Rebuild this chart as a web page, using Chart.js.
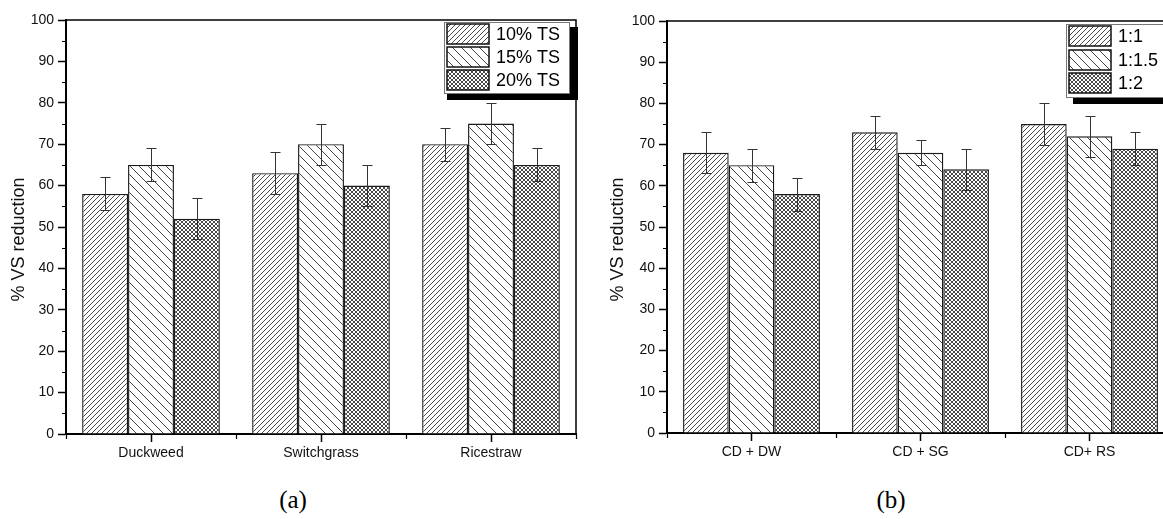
<!DOCTYPE html>
<html>
<head>
<meta charset="utf-8">
<script src="https://cdn.jsdelivr.net/npm/chart.js"></script>
<style>
  html, body { margin: 0; padding: 0; background: #fff; overflow: hidden; width: 1163px; height: 519px; }
  #chartA { position: absolute; left: 0; top: 0; }
  #chartB { position: absolute; left: 590px; top: 0; }
  .cap { position: absolute; top: 485px; width: 60px; text-align: center; line-height: 30px;
         font-family: "Liberation Serif", "Times New Roman", serif; font-size: 25px; color: #000; }
</style>
</head>
<body>
<canvas id="chartA" width="580" height="470"></canvas>
<canvas id="chartB" width="600" height="470"></canvas>
<div class="cap" style="left:263px">(a)</div>
<div class="cap" style="left:861px">(b)</div>
<script>
// panel (a) data
const categoriesA = ['Duckweed', 'Switchgrass', 'Ricestraw'];
const labelsA = ['10% TS', '15% TS', '20% TS'];
const ts10 = [58, 63, 70];
const ts10Err = [4, 5, 4];
const ts15 = [65, 70, 75];
const ts15Err = [4, 5, 5];
const ts20 = [52, 60, 65];
const ts20Err = [5, 5, 4];

// panel (b) data
const categoriesB = ['CD + DW', 'CD + SG', 'CD+ RS'];
const labelsB = ['1:1', '1:1.5', '1:2'];
const ratio1 = [68, 73, 75];
const ratio1Err = [5, 4, 5];
const ratio15 = [65, 68, 72];
const ratio15Err = [4, 3, 5];
const ratio2 = [58, 64, 69];
const ratio2Err = [4, 5, 4];

// y axis
const yMin = 0, yMax = 100, yStep = 10, yMinorStep = 5;
const yTitle = '% VS reduction';

const FONT = '"Liberation Sans", Arial, sans-serif';

// pixel patterns for the hatched bars
function makePattern(size, isDark, dark) {
  const c = document.createElement('canvas');
  c.width = size; c.height = size;
  const g = c.getContext('2d');
  g.fillStyle = '#fff';
  g.fillRect(0, 0, size, size);
  g.fillStyle = dark;
  for (let y = 0; y < size; y++)
    for (let x = 0; x < size; x++)
      if (isDark(x, y)) g.fillRect(x, y, 1, 1);
  return g.createPattern(c, 'repeat');
}
const hatchFine = makePattern(5, (x, y) => (x + y) % 5 === 4, '#4a4a4a');
const hatchWide = makePattern(9, (x, y) => x === y, '#444');
const crossFine = makePattern(4, (x, y) => x === y || x + y === 3, '#4a4a4a');
const patterns = [hatchFine, hatchWide, crossFine];

// error bars drawn from the dataset values through the y scale
const errorBars = {
  id: 'errorBars',
  afterDatasetsDraw(chart) {
    const ctx = chart.ctx, y = chart.scales.y;
    ctx.save();
    ctx.strokeStyle = '#333';
    ctx.lineWidth = 1;
    chart.data.datasets.forEach((ds, i) => {
      chart.getDatasetMeta(i).data.forEach((bar, j) => {
        const v = ds.data[j], e = ds.errors[j];
        const x = Math.round(bar.x) + 0.5;
        const top = Math.round(y.getPixelForValue(v + e)) + 0.5;
        const bot = Math.round(y.getPixelForValue(v - e)) + 0.5;
        ctx.beginPath();
        ctx.moveTo(x, top); ctx.lineTo(x, bot);
        ctx.moveTo(x - 5, top); ctx.lineTo(x + 5, top);
        ctx.moveTo(x - 5, bot); ctx.lineTo(x + 5, bot);
        ctx.stroke();
      });
    });
    ctx.restore();
  }
};

// top/right frame and minor ticks
const frame = {
  id: 'frame',
  afterDraw(chart) {
    const ctx = chart.ctx, a = chart.chartArea;
    const x = chart.scales.x, y = chart.scales.y;
    ctx.save();
    ctx.strokeStyle = '#000';
    ctx.lineWidth = 1.5;
    ctx.beginPath();
    ctx.moveTo(a.left, a.top); ctx.lineTo(a.right, a.top); ctx.lineTo(a.right, a.bottom);
    ctx.stroke();
    ctx.lineWidth = 1.2;
    ctx.beginPath();
    for (let v = yMin + yMinorStep; v < yMax; v += yStep) {
      const py = Math.round(y.getPixelForValue(v)) + 0.5;
      ctx.moveTo(a.left - 4, py); ctx.lineTo(a.left, py);
    }
    for (let i = 0; i <= chart.data.labels.length; i++) {
      const px = Math.round(x.getPixelForValue(i - 0.5)) + 0.5;
      ctx.moveTo(px, a.bottom); ctx.lineTo(px, a.bottom + 5);
    }
    ctx.stroke();
    ctx.restore();
  }
};

// boxed legend with a black shadow
const boxLegend = {
  id: 'boxLegend',
  afterDraw(chart, args, opts) {
    const ctx = chart.ctx, a = chart.chartArea;
    const dss = chart.data.datasets;
    ctx.save();
    ctx.font = '18px ' + FONT;
    const tw = Math.max(...dss.map(d => ctx.measureText(d.label).width));
    const sw = 42, sh = 20, step = opts.step;
    const w = Math.round(3 + sw + 7 + tw + 9);
    const h = Math.round(step * dss.length + 2);
    const x0 = Math.round(a.right + 2 - 9 - w);
    const y0 = Math.round(a.top + opts.dy);
    ctx.fillStyle = '#000';
    ctx.fillRect(x0 + opts.sx, y0 + 5, w + 9 - opts.sx, h + 2);
    ctx.fillStyle = '#fff';
    ctx.fillRect(x0, y0, w, h);
    ctx.strokeStyle = '#777';
    ctx.lineWidth = 1;
    ctx.strokeRect(x0 + 0.5, y0 + 0.5, w, h);
    ctx.textBaseline = 'middle';
    dss.forEach((d, k) => {
      const sy = Math.round(y0 + 2 + k * step);
      ctx.fillStyle = d.backgroundColor;
      ctx.fillRect(x0 + 3, sy, sw, sh);
      ctx.strokeStyle = '#111';
      ctx.lineWidth = 1.5;
      ctx.strokeRect(x0 + 3, sy, sw, sh);
      ctx.fillStyle = '#000';
      ctx.fillText(d.label, x0 + 3 + sw + 7, sy + sh / 2 + 1);
    });
    ctx.restore();
  }
};

function makeDatasets(labels, values, errors) {
  return labels.map((lab, i) => ({
    label: lab,
    data: values[i],
    errors: errors[i],
    backgroundColor: patterns[i],
    borderColor: '#1a1a1a',
    borderWidth: 1.4,
    barPercentage: 1,
    categoryPercentage: 0.81
  }));
}

function makeOptions(yWidth, xHeight, padRight, padTop, titlePad, legendDy, legendStep, legendSx) {
  return {
    responsive: false,
    animation: false,
    layout: { padding: { left: 0, top: padTop, right: padRight, bottom: 0 } },
    scales: {
      x: {
        afterFit: s => { s.height = xHeight; },
        grid: { display: true, offset: false, drawOnChartArea: false, tickLength: 8, tickColor: '#000', tickWidth: 1.5 },
        border: { display: true, color: '#000', width: 2 },
        ticks: { color: '#111', padding: 3, font: { family: FONT, size: 14 } }
      },
      y: {
        min: yMin,
        max: yMax,
        afterFit: s => { s.width = yWidth; },
        grid: { display: true, drawOnChartArea: false, tickLength: 8, tickColor: '#000', tickWidth: 1.5 },
        border: { display: true, color: '#000', width: 2 },
        ticks: { stepSize: yStep, color: '#111', padding: 4, font: { family: FONT, size: 14 } },
        title: {
          display: true,
          text: yTitle + '\u00a0\u00a0\u00a0\u00a0\u00a0',
          color: '#111',
          padding: { top: titlePad, bottom: 0 },
          font: { family: FONT, size: 18 }
        }
      }
    },
    plugins: {
      legend: { display: false },
      tooltip: { enabled: false },
      boxLegend: { dy: legendDy, step: legendStep, sx: legendSx }
    }
  };
}

new Chart(document.getElementById('chartA'), {
  type: 'bar',
  data: {
    labels: categoriesA,
    datasets: makeDatasets(labelsA, [ts10, ts15, ts20], [ts10Err, ts15Err, ts20Err])
  },
  options: makeOptions(66, 36, 4, 20, 8, 2, 23, 3),
  plugins: [errorBars, frame, boxLegend]
});

new Chart(document.getElementById('chartB'), {
  type: 'bar',
  data: {
    labels: categoriesB,
    datasets: makeDatasets(labelsB, [ratio1, ratio15, ratio2], [ratio1Err, ratio15Err, ratio2Err])
  },
  options: makeOptions(77, 37, 16, 21, 17, 3, 23.5, 7),
  plugins: [errorBars, frame, boxLegend]
});
</script>
</body>
</html>
